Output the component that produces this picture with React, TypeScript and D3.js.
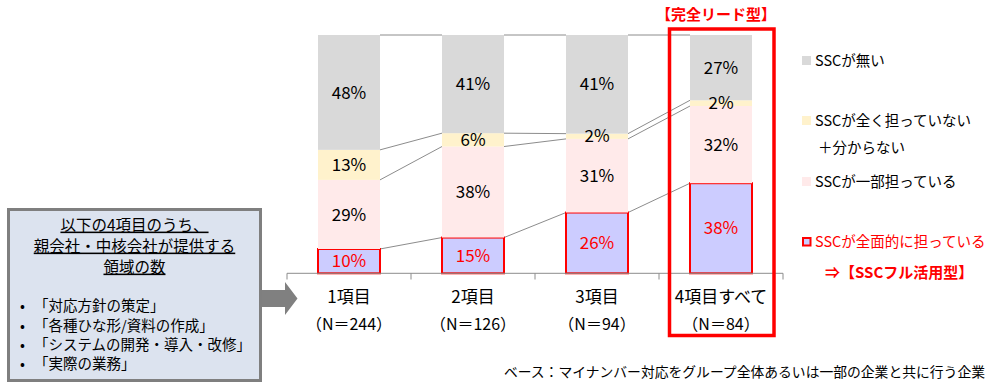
import React from "react";
import * as d3 from "d3";

const categories = ["1項目", "2項目", "3項目", "4項目すべて"];
const nLabels = ["（N＝244）", "（N＝126）", "（N＝94）", "（N＝84）"];
const seriesNames = ["SSCが全面的に担っている", "SSCが一部担っている", "SSCが全く担っていない＋分からない", "SSCが無い"];
const full = [10.2, 15.0, 25.5, 37.8];
const partial = [29.0, 38.2, 30.9, 32.4];
const none = [12.6, 5.6, 2.2, 2.4];
const noSSC = [48.2, 41.2, 41.4, 27.4];
const seriesValues = [full, partial, none, noSSC];
const labelValues = [
  [10, 15, 26, 38],
  [29, 38, 31, 32],
  [13, 6, 2, 2],
  [48, 41, 41, 27],
];
const fills = ["#ccccff", "#ffeaea", "#fff2cc", "#d9d9d9"];
const bulletItems = ["「対応方針の策定」", "「各種ひな形/資料の作成」", "「システムの開発・導入・改修」", "「実際の業務」"];
const boxTitle = ["以下の4項目のうち、", "親会社・中核会社が提供する", "領域の数"];

const FONT = "'Noto Sans CJK JP', 'Noto Sans', sans-serif";

export default function App() {
  const W = 995, H = 389;
  const x = d3.scaleBand<string>().domain(categories).range([287, 783]).paddingInner(0.5).paddingOuter(0.25);
  const y = d3.scaleLinear().domain([0, 100]).range([273.3, 35]);
  const bw = x.bandwidth();

  const rows = categories.map((c, i) => {
    const o: any = { cat: c };
    seriesValues.forEach((s, k) => (o["s" + k] = s[i]));
    return o;
  });
  const stack = d3.stack<any>().keys(seriesValues.map((_, k) => "s" + k));
  const layers = stack(rows);

  const step = x.step();
  const ticks = d3.range(5).map((i) => 287 + i * step);

  const connectors: { x1: number; y1: number; x2: number; y2: number }[] = [];
  layers.forEach((layer) => {
    for (let i = 0; i < categories.length - 1; i++) {
      connectors.push({
        x1: (x(categories[i]) as number) + bw,
        y1: y(layer[i][1]),
        x2: x(categories[i + 1]) as number,
        y2: y(layer[i + 1][1]),
      });
    }
  });

  return (
    <svg width={W} height={H} style={{ position: "absolute", left: 0, top: 0, fontFamily: FONT }}>
      <rect x={0} y={0} width={W} height={H} fill="#ffffff" />
      {/* connectors */}
      {connectors.map((c, i) => (
        <line key={"c" + i} x1={c.x1} y1={c.y1} x2={c.x2} y2={c.y2} stroke="#8c8c8c" strokeWidth={1} />
      ))}
      {/* bars */}
      {layers.map((layer, k) =>
        layer.map((d, i) => {
          const x0 = x(categories[i]) as number;
          const y0 = y(d[1]);
          const h = y(d[0]) - y(d[1]);
          return (
            <rect
              key={"b" + k + "-" + i}
              x={x0}
              y={y0}
              width={bw}
              height={h}
              fill={fills[k]}
              stroke={k === 0 ? "#ff0000" : "none"}
              strokeWidth={k === 0 ? 2 : 0}
            />
          );
        })
      )}
      {/* labels */}
      {layers.map((layer, k) =>
        layer.map((d, i) => {
          const cx = (x(categories[i]) as number) + bw / 2;
          const cy = (y(d[0]) + y(d[1])) / 2;
          return (
            <text
              key={"l" + k + "-" + i}
              x={cx}
              y={cy}
              dy="0.36em"
              textAnchor="middle"
              fontSize={17}
              fill={k === 0 ? "#ff0000" : "#000000"}
            >
              {labelValues[k][i] + "%"}
            </text>
          );
        })
      )}
      {/* axis */}
      <line x1={287} x2={783} y1={273.3} y2={273.3} stroke="#8c8c8c" strokeWidth={1} />
      {ticks.map((t, i) => (
        <line key={"t" + i} x1={t} x2={t} y1={273.3} y2={279.5} stroke="#8c8c8c" strokeWidth={1} />
      ))}
      {categories.map((c, i) => {
        const cx = (x(c) as number) + bw / 2;
        return (
          <g key={"cat" + i}>
            <text x={cx} y={297} dy="0.36em" textAnchor="middle" fontSize={17} fill="#000">
              {c}
            </text>
            <text x={cx} y={324} dy="0.36em" textAnchor="middle" fontSize={16} fill="#000">
              {nLabels[i]}
            </text>
          </g>
        );
      })}
      {/* highlight box */}
      <rect x={669.5} y={29} width={104.5} height={306.5} fill="none" stroke="#ff0000" strokeWidth={3.5} />
      <text x={716} y={15} dy="0.36em" textAnchor="middle" fontSize={15} fontWeight="bold" fill="#ff0000">
        【完全リード型】
      </text>
      {/* legend */}
      <rect x={802} y={56} width={9} height={9} fill={fills[3]} />
      <text x={815} y={60.7} dy="0.36em" fontSize={14.5} fill="#000">SSCが無い</text>
      <rect x={802} y={116} width={9} height={9} fill={fills[2]} />
      <text x={815} y={120.7} dy="0.36em" fontSize={14.5} fill="#000">SSCが全く担っていない</text>
      <text x={818} y={147.3} dy="0.36em" fontSize={14.5} fill="#000">＋分からない</text>
      <rect x={802} y={177} width={9} height={9} fill={fills[1]} />
      <text x={815} y={181.7} dy="0.36em" fontSize={14.5} fill="#000">SSCが一部担っている</text>
      <rect x={803} y={238} width={7.5} height={7.5} fill={fills[0]} stroke="#ff0000" strokeWidth={2} />
      <text x={815} y={241.7} dy="0.36em" fontSize={14.5} fill="#ff0000">SSCが全面的に担っている</text>
      <text x={825} y={272.7} dy="0.36em" fontSize={15} fontWeight="bold" fill="#ff0000">⇒【SSCフル活用型】</text>
      {/* left box */}
      <rect x={8.5} y={209.5} width={252} height={171} fill="#dce3ef" stroke="#7f7f7f" strokeWidth={3} />
      {boxTitle.map((t, i) => (
        <text key={"bt" + i} x={134.5} y={225 + i * 21} dy="0.36em" textAnchor="middle" fontSize={15.5} fill="#000" textDecoration="underline">
          {t}
        </text>
      ))}
      {bulletItems.map((t, i) => (
        <g key={"bi" + i}>
          <text x={20} y={306 + i * 19.3} dy="0.36em" fontSize={14.5} fill="#000">•</text>
          <text x={34} y={306 + i * 19.3} dy="0.36em" fontSize={14.5} fill="#000">{t}</text>
        </g>
      ))}
      {/* arrow */}
      <path d="M262,290 L285,290 L285,282 L297.5,298.5 L285,315 L285,307 L262,307 Z" fill="#808080" />
      {/* footnote */}
      <text x={985} y={371.7} dy="0.36em" textAnchor="end" fontSize={13.8} fill="#000">
        ベース：マイナンバー対応をグループ全体あるいは一部の企業と共に行う企業
      </text>
    </svg>
  );
}
